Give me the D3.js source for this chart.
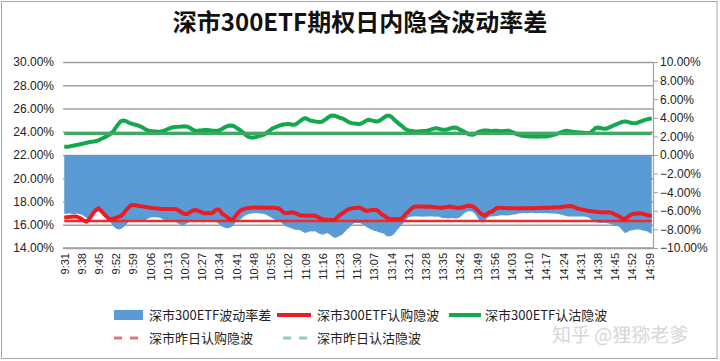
<!DOCTYPE html>
<html><head><meta charset="utf-8">
<script src="https://cdn.jsdelivr.net/npm/d3@7"></script>
<style>
html,body{margin:0;padding:0;background:#fff;}
svg{display:block;}
</style>
</head><body>
<svg id="chart" width="720" height="361"></svg>
<script>
const categories = [
"9:31","9:32","9:33","9:34","9:35","9:36","9:37","9:38","9:39","9:40","9:41","9:42","9:43","9:44","9:45","9:46","9:47","9:48","9:49","9:50","9:51","9:52","9:53","9:54","9:55","9:56","9:57","9:58","9:59",
"10:00","10:01","10:02","10:03","10:04","10:05","10:06","10:07","10:08","10:09","10:10","10:11","10:12","10:13","10:14","10:15","10:16","10:17","10:18","10:19","10:20","10:21","10:22","10:23","10:24","10:25","10:26","10:27","10:28","10:29","10:30","10:31","10:32","10:33","10:34","10:35","10:36","10:37","10:38","10:39","10:40","10:41","10:42","10:43","10:44","10:45","10:46","10:47","10:48","10:49","10:50","10:51","10:52","10:53","10:54","10:55","10:56","10:57","10:58","10:59",
"11:00","11:01","11:02","11:03","11:04","11:05","11:06","11:07","11:08","11:09","11:10","11:11","11:12","11:13","11:14","11:15","11:16","11:17","11:18","11:19","11:20","11:21","11:22","11:23","11:24","11:25","11:26","11:27","11:28","11:29","11:30",
"13:01","13:02","13:03","13:04","13:05","13:06","13:07","13:08","13:09","13:10","13:11","13:12","13:13","13:14","13:15","13:16","13:17","13:18","13:19","13:20","13:21","13:22","13:23","13:24","13:25","13:26","13:27","13:28","13:29","13:30","13:31","13:32","13:33","13:34","13:35","13:36","13:37","13:38","13:39","13:40","13:41","13:42","13:43","13:44","13:45","13:46","13:47","13:48","13:49","13:50","13:51","13:52","13:53","13:54","13:55","13:56","13:57","13:58","13:59",
"14:00","14:01","14:02","14:03","14:04","14:05","14:06","14:07","14:08","14:09","14:10","14:11","14:12","14:13","14:14","14:15","14:16","14:17","14:18","14:19","14:20","14:21","14:22","14:23","14:24","14:25","14:26","14:27","14:28","14:29","14:30","14:31","14:32","14:33","14:34","14:35","14:36","14:37","14:38","14:39","14:40","14:41","14:42","14:43","14:44","14:45","14:46","14:47","14:48","14:49","14:50","14:51","14:52","14:53","14:54","14:55","14:56","14:57","14:58","14:59",
"15:00"];

const tickLabels = ["9:31","9:38","9:45","9:52","9:59","10:06","10:13","10:20","10:27","10:34","10:41","10:48","10:55","11:02","11:09","11:16","11:23","11:30","13:07","13:14","13:21","13:28","13:35","13:42","13:49","13:56","14:03","14:10","14:17","14:24","14:31","14:38","14:45","14:52","14:59"];

// 深市300ETF波动率差 (right axis, %)
const spreadValues = [
-6.30,-6.35,-6.28,-6.32,-6.36,-6.30,-6.34,-6.40,-6.55,-6.75,
-6.80,-6.60,-6.30,-6.12,-6.06,-6.10,-6.25,-6.55,-6.90,-7.30,
-7.65,-7.90,-8.02,-7.95,-7.80,-7.55,-7.25,-7.10,-7.05,-7.10,
-7.08,-7.12,-7.05,-7.00,-6.85,-6.72,-6.70,-6.68,-6.72,-6.75,
-6.90,-7.00,-7.05,-7.02,-7.08,-7.15,-7.30,-7.48,-7.55,-7.50,
-7.35,-7.20,-7.10,-7.08,-7.12,-7.05,-7.10,-7.08,-7.12,-7.10,
-7.15,-7.10,-7.20,-7.45,-7.65,-7.80,-7.88,-7.85,-7.75,-7.50,
-7.20,-7.05,-6.85,-6.60,-6.45,-6.35,-6.30,-6.26,-6.24,-6.25,
-6.28,-6.32,-6.40,-6.55,-6.70,-6.85,-7.00,-7.10,-7.20,-7.45,
-7.67,-7.75,-7.85,-7.95,-8.03,-8.05,-8.10,-8.25,-8.39,-8.30,
-8.20,-8.22,-8.20,-8.35,-8.50,-8.57,-8.50,-8.40,-8.55,-8.75,
-8.92,-8.85,-8.70,-8.57,-8.30,-8.00,-7.80,-7.50,-7.31,-7.30,
-7.32,-7.40,-7.55,-7.75,-7.90,-8.05,-8.15,-8.20,-8.30,-8.40,
-8.45,-8.70,-8.75,-8.72,-8.55,-8.20,-7.90,-7.60,-7.30,-7.00,
-6.70,-6.62,-6.60,-6.58,-6.62,-6.60,-6.64,-6.60,-6.62,-6.58,
-6.62,-6.65,-6.60,-6.70,-6.80,-6.78,-6.82,-6.80,-6.78,-6.82,
-6.80,-6.70,-6.45,-6.20,-6.08,-6.06,-6.10,-6.30,-6.70,-7.10,
-7.30,-7.10,-6.80,-6.62,-6.60,-6.58,-6.55,-6.50,-6.49,-6.48,
-6.50,-6.48,-6.45,-6.40,-6.35,-6.30,-6.26,-6.24,-6.25,-6.24,
-6.22,-6.24,-6.25,-6.24,-6.23,-6.25,-6.24,-6.26,-6.28,-6.30,
-6.32,-6.35,-6.40,-6.48,-6.55,-6.60,-6.62,-6.60,-6.62,-6.60,
-6.62,-6.60,-6.64,-6.70,-6.85,-7.05,-7.20,-7.28,-7.30,-7.32,
-7.30,-7.35,-7.40,-7.50,-7.60,-7.62,-7.80,-8.10,-8.39,-8.30,
-8.15,-8.10,-8.05,-8.00,-8.00,-8.10,-8.15,-8.20,-8.35,-8.50];

// 深市300ETF认购隐波 (left axis, %)
const callIV = [
16.61,16.64,16.66,16.68,16.70,16.70,16.62,16.50,16.36,16.27,
16.45,16.75,17.05,17.30,17.41,17.20,16.98,16.75,16.55,16.49,
16.52,16.60,16.68,16.75,16.95,17.20,17.45,17.65,17.70,17.68,
17.64,17.60,17.56,17.54,17.50,17.46,17.43,17.41,17.40,17.38,
17.36,17.35,17.36,17.34,17.35,17.35,17.30,17.18,17.02,16.92,
16.92,17.05,17.20,17.27,17.24,17.15,17.05,16.99,16.98,16.98,
16.98,17.15,17.32,17.30,17.00,16.85,16.70,16.55,16.41,16.55,
16.85,17.10,17.27,17.35,17.41,17.45,17.47,17.48,17.48,17.47,
17.48,17.47,17.48,17.47,17.47,17.46,17.44,17.42,17.30,17.10,
16.98,17.02,17.06,17.07,17.00,16.90,16.82,16.79,16.78,16.80,
16.78,16.79,16.78,16.68,16.56,16.49,16.46,16.44,16.42,16.41,
16.45,16.62,16.82,16.95,17.10,17.25,17.36,17.41,17.44,17.46,
17.47,17.40,17.28,17.18,17.22,17.26,17.27,17.27,17.12,16.92,
16.80,16.65,16.52,16.49,16.49,16.48,16.49,16.49,16.70,16.95,
17.13,17.35,17.52,17.56,17.57,17.56,17.56,17.55,17.56,17.55,
17.52,17.50,17.48,17.47,17.47,17.50,17.54,17.56,17.52,17.48,
17.47,17.47,17.50,17.56,17.62,17.64,17.60,17.45,17.27,17.05,
16.90,16.78,16.92,17.08,17.13,17.30,17.45,17.47,17.46,17.44,
17.43,17.42,17.41,17.42,17.41,17.40,17.41,17.42,17.41,17.41,
17.41,17.42,17.44,17.45,17.46,17.47,17.47,17.47,17.48,17.49,
17.50,17.50,17.52,17.55,17.58,17.60,17.61,17.56,17.48,17.38,
17.34,17.30,17.25,17.20,17.18,17.15,17.12,17.09,17.07,17.07,
17.06,17.07,17.07,17.00,16.88,16.80,16.68,16.55,16.49,16.62,
16.80,16.90,16.94,16.97,16.98,16.96,16.90,16.84,16.80,16.78];

// 深市300ETF认沽隐波 (left axis, %)
const putIV = [
22.73,22.70,22.72,22.78,22.82,22.86,22.90,22.95,23.00,23.05,
23.10,23.14,23.16,23.20,23.28,23.38,23.48,23.58,23.70,23.85,
24.05,24.35,24.65,24.90,24.96,24.92,24.80,24.72,24.66,24.60,
24.55,24.45,24.35,24.22,24.12,24.06,24.04,24.02,24.00,24.00,
24.05,24.12,24.22,24.30,24.37,24.40,24.42,24.44,24.46,24.47,
24.44,24.35,24.20,24.10,24.07,24.10,24.12,24.15,24.16,24.14,
24.10,24.08,24.08,24.12,24.22,24.35,24.45,24.52,24.54,24.48,
24.35,24.22,24.05,23.88,23.70,23.56,23.50,23.50,23.55,23.62,
23.68,23.73,23.85,24.00,24.18,24.32,24.40,24.48,24.56,24.62,
24.65,24.66,24.64,24.60,24.62,24.75,24.92,25.08,25.17,25.08,
24.96,24.92,24.88,24.85,24.83,24.88,25.02,25.18,25.32,25.40,
25.38,25.30,25.20,25.17,25.05,24.92,24.80,24.74,24.70,24.68,
24.66,24.72,24.85,24.98,25.03,24.98,24.92,24.89,24.92,25.05,
25.22,25.36,25.40,25.30,25.10,24.89,24.72,24.55,24.36,24.20,
24.12,24.08,24.05,24.03,24.03,24.05,24.07,24.08,24.12,24.18,
24.25,24.31,24.28,24.22,24.18,24.17,24.22,24.28,24.34,24.37,
24.30,24.18,24.08,23.96,23.84,23.76,23.73,23.80,23.92,24.02,
24.08,24.10,24.10,24.08,24.07,24.08,24.08,24.06,24.05,24.07,
24.08,24.08,24.00,23.90,23.80,23.73,23.68,23.64,23.62,23.60,
23.59,23.59,23.58,23.59,23.59,23.60,23.59,23.62,23.68,23.74,
23.79,23.86,23.94,24.02,24.08,24.06,24.02,23.99,23.97,23.96,
23.94,23.92,23.90,23.88,23.92,24.10,24.30,24.37,24.32,24.27,
24.25,24.30,24.40,24.50,24.60,24.68,24.76,24.84,24.89,24.86,
24.80,24.75,24.74,24.76,24.84,24.92,25.00,25.06,25.11,25.14];

// 昨日隐波 reference levels (left axis, %)
const prevCallIV = 16.32;
const prevPutIV = 23.85;

const leftTicks = [14,16,18,20,22,24,26,28,30];
const rightTicks = [-10,-8,-6,-4,-2,0,2,4,6,8,10];

const titleText = "深市300ETF期权日内隐含波动率差";
const seriesNames = ["深市300ETF波动率差","深市300ETF认购隐波","深市300ETF认沽隐波","深市昨日认购隐波","深市昨日认沽隐波"];
const watermark = "知乎 @狸猕老爹";

// ---------- drawing ----------
const svg = d3.select("#chart");
const L = 63, R = 653, T = 62, B = 248;
const cjk = "'Noto Sans CJK SC','Noto Sans',sans-serif";
const latin = "'Liberation Sans',Arial,sans-serif";

svg.append("rect").attr("x",1.5).attr("y",1.5).attr("width",715.5).attr("height",357)
  .attr("fill","#fff").attr("stroke","#a6a6a6").attr("stroke-width",1);

const x = d3.scalePoint().domain(categories).range([L,R]).padding(0.5);
const yL = d3.scaleLinear().domain([14,30]).range([B,T]);
const yR = d3.scaleLinear().domain([-10,10]).range([B,T]);

// left axis + gridlines
const gL = svg.append("g").attr("transform",`translate(${L},0)`)
  .call(d3.axisLeft(yL).tickValues(leftTicks).tickSize(-(R-L)).tickPadding(9)
    .tickFormat(d => d3.format(".2f")(d) + "%"));
gL.select(".domain").remove();
gL.selectAll(".tick line").attr("stroke","#a0a0a0").attr("stroke-width",1.5);
gL.selectAll("text").attr("font-family",latin).attr("font-size",12).attr("fill","#222");

// area
const area = d3.area().x((d,i)=>x(categories[i])).y0(yR(0)).y1(d=>yR(d));
svg.append("path").datum(spreadValues).attr("d",area).attr("fill","#5b9bd5");

// bottom axis line (14%)
svg.append("line").attr("x1",L).attr("x2",R).attr("y1",B).attr("y2",B)
  .attr("stroke","#a0a0a0").attr("stroke-width",1.5);

// lines
const lineL = d3.line().x((d,i)=>x(categories[i])).y(d=>yL(d));
svg.append("path").datum(categories.map(()=>prevCallIV)).attr("d",lineL)
  .attr("fill","none").attr("stroke","#ee2a2a").attr("stroke-width",2.5);
svg.append("path").datum(callIV).attr("d",lineL)
  .attr("fill","none").attr("stroke","#ec1c24").attr("stroke-width",4).attr("stroke-linejoin","round");
svg.append("path").datum(putIV).attr("d",lineL)
  .attr("fill","none").attr("stroke","#12a84c").attr("stroke-width",4).attr("stroke-linejoin","round");
svg.append("path").datum(categories.map(()=>prevPutIV)).attr("d",lineL)
  .attr("fill","none").attr("stroke","#3fa864").attr("stroke-width",3);

// right axis
const gR = svg.append("g").attr("transform",`translate(${R},0)`)
  .call(d3.axisRight(yR).tickValues(rightTicks).tickSize(5).tickSizeOuter(0).tickPadding(2)
    .tickFormat(d => d3.format(".2f")(d) + "%"));
gR.select(".domain").attr("stroke","#a0a0a0").attr("stroke-width",1.2);
gR.selectAll(".tick line").attr("stroke","#a0a0a0");
gR.selectAll("text").attr("font-family",latin).attr("font-size",12).attr("fill","#222");

// bottom axis labels
const gB = svg.append("g").attr("transform",`translate(0,${B})`)
  .call(d3.axisBottom(x).tickValues(tickLabels).tickSize(0));
gB.select(".domain").remove();
gB.selectAll("text").attr("font-family",latin).attr("font-size",11).attr("fill","#222")
  .attr("transform","rotate(-90)").attr("x",-5).attr("y",0).attr("dy","0.35em")
  .attr("text-anchor","end");

// title
svg.append("text").attr("x",360).attr("y",31).attr("text-anchor","middle")
  .attr("font-family",cjk).attr("font-weight","bold").attr("font-size",24).attr("fill","#111")
  .text(titleText);

// legend
const lg = svg.append("g").attr("font-family",cjk).attr("font-size",13).attr("fill","#222");
const r1 = 315, r2 = 338;
lg.append("rect").attr("x",114).attr("y",r1-5).attr("width",29).attr("height",10).attr("fill","#5b9bd5");
lg.append("text").attr("x",149).attr("y",r1).attr("dy","0.35em").text(seriesNames[0]);
lg.append("line").attr("x1",277).attr("x2",311).attr("y1",r1).attr("y2",r1).attr("stroke","#ec1c24").attr("stroke-width",4);
lg.append("text").attr("x",317).attr("y",r1).attr("dy","0.35em").text(seriesNames[1]);
lg.append("line").attr("x1",449).attr("x2",481).attr("y1",r1).attr("y2",r1).attr("stroke","#12a84c").attr("stroke-width",4);
lg.append("text").attr("x",485).attr("y",r1).attr("dy","0.35em").text(seriesNames[2]);
lg.append("line").attr("x1",114).attr("x2",142).attr("y1",r2).attr("y2",r2).attr("stroke","#e8707c").attr("stroke-width",3).attr("stroke-dasharray","8,8");
lg.append("text").attr("x",149).attr("y",r2).attr("dy","0.35em").text(seriesNames[3]);
lg.append("line").attr("x1",283).attr("x2",311).attr("y1",r2).attr("y2",r2).attr("stroke","#8fd0ae").attr("stroke-width",3).attr("stroke-dasharray","8,8");
lg.append("text").attr("x",317).attr("y",r2).attr("dy","0.35em").text(seriesNames[4]);

// watermark
svg.append("text").attr("x",552).attr("y",342).attr("font-family",cjk).attr("font-size",19)
  .attr("fill","#d2d2d2").attr("opacity",0.9).text(watermark);
</script>
</body></html>
